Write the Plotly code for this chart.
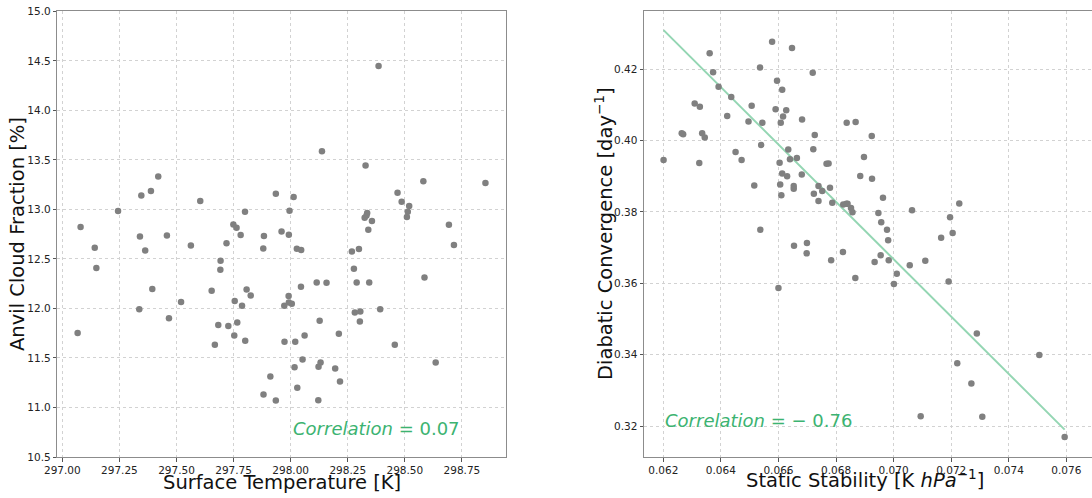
import numpy as np
import plotly.graph_objects as go

# ---------------- data ----------------
surface_temp = [297.067, 297.080, 297.142, 297.149, 297.244, 297.340, 297.346, 297.337, 297.363, 297.388,
                297.394, 297.420, 297.458, 297.467, 297.520, 297.563, 297.604, 297.654, 297.668, 297.683,
                297.693, 297.692, 297.719, 297.727, 297.749, 297.763, 297.755, 297.753, 297.766, 297.781,
                297.787, 297.800, 297.801, 297.807, 297.825, 297.880, 297.883, 297.881, 297.911, 297.935,
                297.935, 297.960, 297.972, 297.973, 297.991, 297.992, 297.995, 297.992, 298.005, 298.013,
                298.017, 298.020, 298.027, 298.029, 298.046, 298.045, 298.052, 298.061, 298.114, 298.122,
                298.121, 298.127, 298.131, 298.137, 298.157, 298.195, 298.211, 298.216, 298.268, 298.277,
                298.281, 298.289, 298.299, 298.305, 298.303, 298.324, 298.328, 298.332, 298.335, 298.340,
                298.344, 298.356, 298.385, 298.392, 298.456, 298.468, 298.486, 298.509, 298.513, 298.519,
                298.581, 298.586, 298.635, 298.693, 298.715, 298.853]
anvil_fraction = [11.751, 12.822, 12.613, 12.407, 12.983, 12.727, 13.141, 11.993, 12.586, 13.185,
                  12.195, 13.333, 12.737, 11.902, 12.064, 12.636, 13.084, 12.178, 11.633, 11.832,
                  12.481, 12.391, 12.657, 11.822, 12.848, 12.815, 12.074, 11.727, 11.859, 12.741,
                  12.027, 12.976, 11.673, 12.192, 12.131, 12.606, 12.731, 11.131, 11.313, 13.158,
                  11.071, 12.778, 12.027, 11.663, 12.125, 12.744, 12.987, 12.061, 12.047, 13.125,
                  11.407, 11.663, 12.603, 11.199, 12.589, 12.219, 11.485, 11.727, 12.263, 11.411,
                  11.074, 11.875, 11.455, 13.586, 12.259, 11.394, 11.744, 11.263, 12.576, 12.401,
                  11.960, 12.263, 12.599, 11.970, 11.869, 12.916, 13.444, 12.939, 12.963, 12.795,
                  12.263, 12.882, 14.448, 11.993, 11.633, 13.168, 13.077, 12.923, 12.976, 13.034,
                  13.283, 12.313, 11.455, 12.845, 12.640, 13.266]

static_stability = [0.06201, 0.06264, 0.06269, 0.06309, 0.06327, 0.06325, 0.06335, 0.06344, 0.06361, 0.06373,
                    0.06392, 0.06422, 0.06436, 0.06451, 0.06472, 0.06496, 0.06507, 0.06516, 0.06536, 0.06537,
                    0.06540, 0.06544, 0.06578, 0.06590, 0.06595, 0.06600, 0.06604, 0.06606, 0.06608, 0.06610,
                    0.06613, 0.06613, 0.06616, 0.06627, 0.06630, 0.06634, 0.06640, 0.06647, 0.06653, 0.06653,
                    0.06654, 0.06664, 0.06681, 0.06682, 0.06698, 0.06699, 0.06719, 0.06721, 0.06723, 0.06726,
                    0.06739, 0.06739, 0.06752, 0.06767, 0.06774, 0.06779, 0.06783, 0.06787, 0.06824, 0.06825,
                    0.06836, 0.06837, 0.06840, 0.06852, 0.06857, 0.06867, 0.06868, 0.06884, 0.06897, 0.06924,
                    0.06925, 0.06934, 0.06947, 0.06955, 0.06957, 0.06963, 0.06977, 0.06981, 0.06983, 0.07001,
                    0.07011, 0.07056, 0.07064, 0.07094, 0.07110, 0.07165, 0.07191, 0.07196, 0.07205, 0.07221,
                    0.07228, 0.07270, 0.07289, 0.07308, 0.07506, 0.07594]
diabatic_conv = [0.3946, 0.4021, 0.4018, 0.4104, 0.4095, 0.3937, 0.4021, 0.4009, 0.4245, 0.4192,
                 0.4151, 0.4069, 0.4122, 0.3968, 0.3946, 0.4054, 0.4098, 0.3874, 0.4205, 0.3750,
                 0.3988, 0.4050, 0.4277, 0.4088, 0.4168, 0.3587, 0.3938, 0.3877, 0.4050, 0.3847,
                 0.3908, 0.4143, 0.4068, 0.4085, 0.3900, 0.3975, 0.3948, 0.4260, 0.3873, 0.3865,
                 0.3705, 0.3951, 0.3905, 0.4059, 0.3684, 0.3713, 0.4190, 0.3976, 0.3851, 0.4016,
                 0.3873, 0.3831, 0.3859, 0.3935, 0.3936, 0.3868, 0.3665, 0.3826, 0.3688, 0.3821,
                 0.3823, 0.4050, 0.3823, 0.3811, 0.3799, 0.3615, 0.4052, 0.3901, 0.3954, 0.4013,
                 0.3893, 0.3660, 0.3797, 0.3679, 0.3771, 0.3840, 0.3750, 0.3721, 0.3665, 0.3598,
                 0.3627, 0.3651, 0.3805, 0.3227, 0.3663, 0.3728, 0.3605, 0.3785, 0.3741, 0.3376,
                 0.3824, 0.3319, 0.3459, 0.3226, 0.3399, 0.3169]

left_corr_text = "<i>Correlation</i> = 0.07"
right_corr_text = "<i>Correlation</i> = − 0.76"

left_xticks = [297.00, 297.25, 297.50, 297.75, 298.00, 298.25, 298.50, 298.75]
left_yticks = [10.5, 11.0, 11.5, 12.0, 12.5, 13.0, 13.5, 14.0, 14.5, 15.0]
right_xticks = [0.062, 0.064, 0.066, 0.068, 0.070, 0.072, 0.074, 0.076]
right_yticks = [0.32, 0.34, 0.36, 0.38, 0.40, 0.42]

# ---------------- figure ----------------
W, H = 1092, 498
FONT = "DejaVu Sans"
DOT = "#808080"
GREEN = "#3cb371"
LINEGREEN = "#94d6b3"
GRID = "#d2d2d2"
SPINE = "#8c8c8c"

def px_x(p):
    return p / W

def px_y(p):
    return 1 - p / H

fig = go.Figure()
fig.add_trace(go.Scatter(x=surface_temp, y=anvil_fraction, mode="markers",
                         marker=dict(color=DOT, size=6.5, line=dict(width=0)),
                         xaxis="x", yaxis="y", showlegend=False))

# fitted line for right panel (standardised major axis: slope = sign(r) * sy / sx)
xs_arr = np.array(static_stability)
ys_arr = np.array(diabatic_conv)
r = np.corrcoef(xs_arr, ys_arr)[0, 1]
slope = np.sign(r) * ys_arr.std() / xs_arr.std()
intercept = ys_arr.mean() - slope * xs_arr.mean()
xs = np.array([xs_arr.min(), xs_arr.max()])
fig.add_trace(go.Scatter(x=xs, y=slope * xs + intercept, mode="lines",
                         line=dict(color=LINEGREEN, width=2),
                         xaxis="x2", yaxis="y2", showlegend=False))
fig.add_trace(go.Scatter(x=static_stability, y=diabatic_conv, mode="markers",
                         marker=dict(color=DOT, size=6.5, line=dict(width=0)),
                         xaxis="x2", yaxis="y2", showlegend=False))

ydom = [px_y(457), px_y(11.3)]
common = dict(showgrid=True, gridcolor=GRID, griddash="dot", gridwidth=1,
              showline=True, linecolor=SPINE, linewidth=1,
              ticks="outside", ticklen=3.5, tickcolor="#555555", tickwidth=1,
              tickfont=dict(family=FONT, size=10.5, color="#222222"), zeroline=False,
              automargin=False)

fig.update_layout(
    width=W, height=H,
    margin=dict(l=0, r=0, t=0, b=0, pad=0, autoexpand=False),
    paper_bgcolor="white", plot_bgcolor="white",
    font=dict(family=FONT, color="#111111"),
    xaxis=dict(domain=[px_x(57.3), px_x(506)], range=[296.978, 298.943],
               tickvals=left_xticks, tickformat=".2f", anchor="y", mirror=True, **common),
    yaxis=dict(domain=ydom, range=[10.5, 15.0], tickvals=left_yticks, tickformat=".1f",
               anchor="x", mirror=True, **common),
    xaxis2=dict(domain=[px_x(644), 1.0], range=[0.06133, 0.07689],
                tickvals=right_xticks, tickformat=".3f", anchor="y2", mirror=True, **common),
    yaxis2=dict(domain=ydom, range=[0.31131, 0.43626], tickvals=right_yticks, tickformat=".2f",
                anchor="x2", mirror=False, **common),
)

TITLE_SIZE = 19.5
annotations = [
    dict(text="Surface Temperature [K]", xref="paper", yref="paper",
         x=px_x(281.6), y=px_y(482), xanchor="center", yanchor="middle", showarrow=False,
         font=dict(family=FONT, size=TITLE_SIZE, color="#111111")),
    dict(text="Anvil Cloud Fraction [%]", xref="paper", yref="paper",
         x=px_x(17), y=px_y(234), xanchor="center", yanchor="middle", textangle=-90, showarrow=False,
         font=dict(family=FONT, size=TITLE_SIZE, color="#111111")),
    dict(text="Static Stability [K <i>hPa</i><sup>−1</sup>]", xref="paper", yref="paper",
         x=px_x(864.5), y=px_y(479), xanchor="center", yanchor="middle", showarrow=False,
         font=dict(family=FONT, size=TITLE_SIZE, color="#111111")),
    dict(text="Diabatic Convergence [day<sup>−1</sup>]", xref="paper", yref="paper",
         x=px_x(604), y=px_y(234), xanchor="center", yanchor="middle", textangle=-90, showarrow=False,
         font=dict(family=FONT, size=TITLE_SIZE, color="#111111")),
    dict(text=left_corr_text, xref="x", yref="y", x=298.0, y=10.79,
         xanchor="left", yanchor="middle", showarrow=False,
         font=dict(family=FONT, size=18, color=GREEN)),
    dict(text=right_corr_text, xref="x2", yref="y2", x=0.062, y=0.3216,
         xanchor="left", yanchor="middle", showarrow=False,
         font=dict(family=FONT, size=18, color=GREEN)),
]
fig.update_layout(annotations=annotations)

fig.write_html("out.html")
